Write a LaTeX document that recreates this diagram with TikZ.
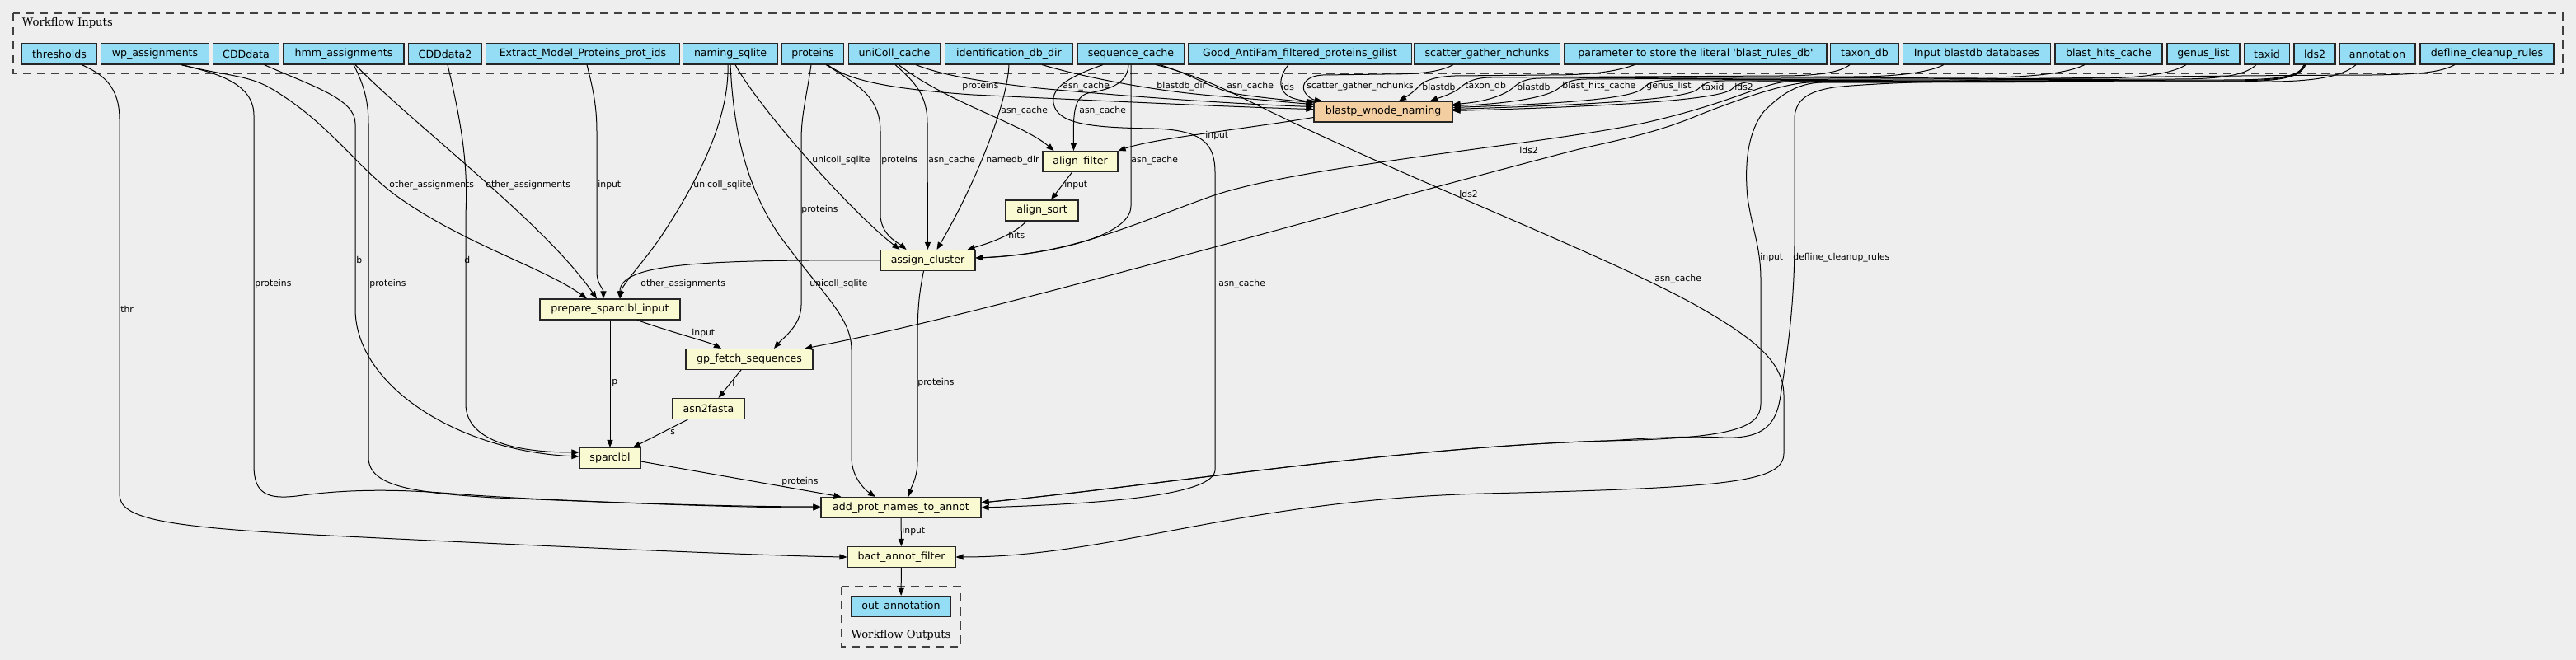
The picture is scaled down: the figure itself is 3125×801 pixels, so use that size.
\documentclass[tikz,border=0pt]{standalone}
\usepackage{fontspec}
\setmainfont{DejaVu Sans}
\newfontfamily\clusterfont{DejaVu Serif}
\usetikzlibrary{arrows.meta}
\usetikzlibrary{calc}
\definecolor{bgc}{RGB}{238,238,238}
\definecolor{inblue}{RGB}{148,221,244}
\definecolor{stepyel}{RGB}{250,250,210}
\definecolor{subwf}{RGB}{243,206,161}
\newcommand{\boxfont}{\fontsize{6.3}{7.5}\selectfont}
\newcommand{\edgefont}{\fontsize{5.4}{6.5}\selectfont}
\newcommand{\clfont}{\clusterfont\fontsize{6.6}{8}\selectfont}

\begin{document}
\begin{tikzpicture}[x=0.5pt, y=-0.5pt,
    inp/.style={draw=black!85, line width=0.55pt, fill=inblue, minimum height=12.5pt, inner sep=0pt, font=\boxfont},
    stepbox/.style={inp, fill=stepyel},
    wfbox/.style={inp, fill=subwf},
    edge/.style={line width=0.5pt, -{Triangle[length=4.5pt, width=3.5pt]}},
    lbl/.style={font=\edgefont, inner sep=0pt, anchor=west},
    cluster/.style={draw=black!75, line width=0.6pt, dash pattern=on 5pt off 3.5pt}]
    \fill[bgc] (0,0) rectangle (3125,801);
    \draw[cluster] (16,16) rectangle (3109,89);
    \node[font=\clfont, anchor=west, inner sep=0pt] (inlabel) at (26.5,28) {Workflow Inputs};
    \draw[cluster] (1021,712) rectangle (1165,785);
    \node[font=\clfont, inner sep=0pt] (outlabel) at (1093,771) {Workflow Outputs};

    \foreach \n/\x/\w/\txt in {thr/72/91/thresholds, wp/188/131/wp\_assignments, cdd/298.5/80/CDDdata,
        hmm/417/146/hmm\_assignments, cdd2/540/89/CDDdata2, extract/707/235/Extract\_Model\_Proteins\_prot\_ids,
        naming/886/115/naming\_sqlite, prot/986/75/proteins, unicoll/1085/111/uniColl\_cache,
        ident/1224/155/identification\_db\_dir, seqc/1372/129/sequence\_cache,
        antifam/1577/271/Good\_AntiFam\_filtered\_proteins\_gilist, sgn/1804/177/scatter\_gather\_nchunks,
        param/2057/318/parameter to store the literal \textquotesingle blast\_rules\_db\textquotesingle,
        taxdb/2262/83/taxon\_db, blastdbs/2398/179/Input blastdb databases, bhc/2558/130/blast\_hits\_cache,
        genus/2673/88/genus\_list, taxid/2750/55/taxid, lds/2808/50/lds2, annot/2884/92/annotation,
        defline/3017/162/defline\_cleanup\_rules}
        \node[inp, minimum width=\w*0.5pt] (\n) at (\x,65.5) {\txt};

    \node[wfbox, minimum width=84pt] (blastp) at (1678,135.5) {blastp\_wnode\_naming};
    \node[stepbox, minimum width=45.5pt] (alignf) at (1310.5,196) {align\_filter};
    \node[stepbox, minimum width=44pt] (aligns) at (1264,255.5) {align\_sort};
    \node[stepbox, minimum width=57.5pt] (assign) at (1125.5,316) {assign\_cluster};
    \node[stepbox, minimum width=85pt] (prep) at (740,375.5) {prepare\_sparclbl\_input};
    \node[stepbox, minimum width=77pt] (gpfetch) at (909,436) {gp\_fetch\_sequences};
    \node[stepbox, minimum width=43.5pt] (asn2f) at (859.5,496) {asn2fasta};
    \node[stepbox, minimum width=37pt] (sparc) at (740,556) {sparclbl};
    \node[stepbox, minimum width=97pt] (addprot) at (1093,616) {add\_prot\_names\_to\_annot};
    \node[stepbox, minimum width=65.5pt] (bactf) at (1093.5,676) {bact\_annot\_filter};
    \node[inp, minimum width=60pt] (outann) at (1093,736) {out\_annotation};

    \draw[edge] ($(thr.south)+(27,0)$) .. controls (125,90) and (145,105) .. (145,145) -- (145,600) .. controls (145,630) and (200,640) .. (400,650) .. controls (700,665) and (950,675) .. (bactf.west);
    \draw[edge] ($(wp.south)+(31,0)$) .. controls (260,88) and (308,100) .. (308,140) -- (308,565) .. controls (308,600) and (325,606) .. (360,602) .. controls (410,595) and (470,592) .. (560,600) .. controls (700,610) and (900,615) .. ($(addprot.west)+(0,-1)$);
    \draw[edge] ($(wp.south)+(33,0)$) .. controls (270,92) and (300,90) .. (330,108) .. controls (400,150) and (430,200) .. (480,237) .. controls (560,295) and (660,325) .. ($(prep.north)+(-28,0)$);
    \draw[edge] ($(cdd.south)+(22,0)$) .. controls (380,105) and (431,120) .. (431,150) -- (431,375) .. controls (431,470) and (560,548) .. ($(sparc.west)+(0,-2)$);
    \draw[edge] ($(hmm.south)+(12,0)$) .. controls (440,100) and (447,120) .. (447,150) -- (447,555) .. controls (447,590) and (500,598) .. (600,604) .. controls (800,612) and (900,616) .. (addprot.west);
    \draw[edge] ($(hmm.south)+(14,0)$) .. controls (500,150) and (660,270) .. ($(prep.north)+(-16,0)$);
    \draw[edge] ($(cdd2.south)+(3,0)$) .. controls (560,150) and (568,200) .. (565,260) -- (565,490) .. controls (565,540) and (640,549) .. ($(sparc.west)+(0,-7)$);
    \draw[edge] ($(extract.south)+(5,0)$) .. controls (720,110) and (724,130) .. (724,160) -- (724,330) .. controls (724,345) and (732,350) .. ($(prep.north)+(-8,0)$);
    \draw[edge] ($(naming.south)+(-3,0)$) .. controls (885,150) and (840,230) .. (800,290) .. controls (775,325) and (755,345) .. ($(prep.north)+(12,0)$);
    \draw[edge] (naming.south) .. controls (890,160) and (905,225) .. (945,285) .. controls (1000,360) and (1033,385) .. (1033,425) -- (1033,555) .. controls (1033,580) and (1050,595) .. ($(addprot.north)+(-31,0)$);
    \draw[edge] ($(naming.south)+(6,0)$) .. controls (920,130) and (1030,255) .. ($(assign.north)+(-34,0)$);
    \draw[edge] ($(prot.south)+(18,0)$) .. controls (1030,98) and (1080,108) .. (1180,115) .. controls (1350,123) and (1500,130) .. (blastp.178);
    \draw[edge] ($(prot.south)+(16,0)$) .. controls (1045,105) and (1068,120) .. (1068,160) -- (1068,260) .. controls (1068,285) and (1090,295) .. ($(assign.north)+(-26,0)$);
    \draw[edge] ($(prot.south)+(-2,0)$) .. controls (978,120) and (972,140) .. (972,170) -- (972,370) .. controls (972,395) and (950,410) .. ($(gpfetch.north)+(30,0)$);
    \draw[edge] ($(unicoll.south)+(26,0)$) .. controls (1140,90) and (1180,98) .. (1260,107) .. controls (1400,120) and (1520,127) .. (blastp.176);
    \draw[edge] ($(unicoll.south)+(5,0)$) .. controls (1150,125) and (1240,150) .. ($(alignf.north)+(-32,0)$);
    \draw[edge] ($(unicoll.south)+(1,0)$) .. controls (1110,100) and (1125,115) .. (1125,150) -- (assign.north);
    \draw[edge] ($(ident.south)+(40,0)$) .. controls (1320,95) and (1400,110) .. (1470,116) .. controls (1520,120) and (1560,124) .. (blastp.174);
    \draw[edge] (ident.south) .. controls (1222,125) and (1185,220) .. ($(assign.north)+(11,0)$);
    \draw[edge] ($(seqc.south)+(35,0)$) .. controls (1450,92) and (1470,108) .. (1500,114) .. controls (1540,120) and (1570,122) .. (blastp.173);
    \draw[edge] ($(seqc.south)+(-3,0)$) .. controls (1368,100) and (1350,108) .. (1320,113) .. controls (1302,118) and (1302,140) .. ($(alignf.north)+(-8,0)$);
    \draw[edge] (seqc.south) -- (1372,250) .. controls (1372,290) and (1260,310) .. ($(assign.east)+(0,-3)$);
    \draw[edge] ($(seqc.south)+(-34,0)$) .. controls (1300,92) and (1275,105) .. (1278,125) .. controls (1282,150) and (1320,155) .. (1400,156) .. controls (1460,158) and (1474,175) .. (1474,210) -- (1474,570) .. controls (1474,600) and (1350,611) .. (addprot.east);
    \draw[edge] ($(seqc.south)+(30,0)$) .. controls (1440,88) and (1470,100) .. (1520,125) .. controls (1700,215) and (1950,310) .. (2060,372) .. controls (2130,412) and (2164,440) .. (2164,480) -- (2164,550) .. controls (2164,585) and (2100,592) .. (1800,599) .. controls (1500,607) and (1350,676) .. (bactf.east);
    \draw[edge] ($(antifam.south)+(-14,0)$) .. controls (1550,95) and (1550,112) .. (1568,119) .. controls (1580,123) and (1592,123) .. (blastp.171);
    \draw[edge] ($(sgn.south)+(-41,0)$) .. controls (1745,88) and (1720,90) .. (1680,90) -- (1605,91) .. controls (1585,92) and (1579,102) .. (1582,110) .. controls (1585,117) and (1592,121) .. (blastp.170);
    \draw[edge] ($(param.south)+(-74,0)$) .. controls (1960,87) and (1930,91) .. (1880,91) -- (1765,92) .. controls (1740,93) and (1728,98) .. (1722,104) .. controls (1715,112) and (1705,118) .. ($(blastp.north)+(19,0)$);
    \draw[edge] ($(taxdb.south)+(-18,0)$) .. controls (2232,88) and (2205,92) .. (2160,92) -- (1810,94) .. controls (1790,94) and (1780,99) .. (1773,105) .. controls (1765,113) and (1745,119) .. ($(blastp.north)+(57,0)$);
    \draw[edge] ($(blastdbs.south)+(-40,0)$) .. controls (2340,88) and (2300,93) .. (2250,93) -- (1870,95) .. controls (1850,95) and (1843,100) .. (1836,106) .. controls (1825,116) and (1800,124) .. ($(blastp.east)+(0,-9)$);
    \draw[edge] ($(bhc.south)+(-29,0)$) .. controls (2510,88) and (2470,94) .. (2400,94) -- (1925,96) .. controls (1905,96) and (1898,101) .. (1891,107) .. controls (1878,118) and (1830,126) .. ($(blastp.east)+(0,-7)$);
    \draw[edge] ($(genus.south)+(-21,0)$) .. controls (2635,89) and (2600,95) .. (2540,95) -- (2027,97) .. controls (2005,97) and (1998,102) .. (1992,108) .. controls (1975,122) and (1860,127) .. ($(blastp.east)+(0,-5)$);
    \draw[edge] ($(taxid.south)+(-13,0)$) .. controls (2725,90) and (2700,96) .. (2640,96) -- (2093,98) .. controls (2072,98) and (2066,102) .. (2060,108) .. controls (2045,122) and (1900,128) .. ($(blastp.east)+(0,-3)$);
    \draw[edge] ($(lds.south)+(-13,0)$) .. controls (2790,92) and (2770,97) .. (2700,97) -- (2133,99) .. controls (2112,99) and (2106,103) .. (2101,108) .. controls (2085,123) and (1920,130) .. ($(blastp.east)+(0,-1)$);
    \draw[edge] ($(lds.south)+(-12,0)$) .. controls (2790,93) and (2770,98) .. (2700,98) -- (2170,99) .. controls (2140,100) and (2100,125) .. (2000,148) .. controls (1880,175) and (1580,200) .. (1470,238) .. controls (1380,270) and (1300,309) .. ($(assign.east)+(0,-3)$);
    \draw[edge] ($(lds.south)+(-11,0)$) .. controls (2790,94) and (2770,99) .. (2700,99) -- (2195,100) .. controls (2165,101) and (2110,120) .. (2060,140) .. controls (2000,165) and (1950,172) .. (1904,184) .. controls (1500,290) and (1200,380) .. (gpfetch.11);
    \draw[edge] ($(annot.south)+(-26,0)$) .. controls (2845,90) and (2820,98) .. (2760,99) -- (2210,100) .. controls (2180,101) and (2160,115) .. (2140,135) .. controls (2120,160) and (2116,200) .. (2120,240) .. controls (2126,280) and (2136,300) .. (2136,340) -- (2136,490) .. controls (2136,520) and (2100,532) .. (1950,535) .. controls (1700,542) and (1400,590) .. ($(addprot.east)+(0,-6)$);
    \draw[edge] ($(defline.south)+(-39,0)$) .. controls (2960,88) and (2935,90) .. (2880,91) .. controls (2600,92) and (2300,97) .. (2225,106) .. controls (2192,111) and (2177,122) .. (2177,145) -- (2177,290) .. controls (2177,380) and (2166,440) .. (2160,480) .. controls (2155,515) and (2140,533) .. (2090,531) .. controls (2050,529) and (2010,531) .. (1950,535) .. controls (1700,542) and (1400,590) .. ($(addprot.east)+(0,-6)$);
    \draw[edge] ($(blastp.west)+(0,7)$) .. controls (1500,158) and (1400,168) .. (alignf.north east);
    \draw[edge] ($(alignf.south)+(-10,0)$) -- ($(aligns.north)+(11,0)$);
    \draw[edge] ($(aligns.south)+(-19,0)$) .. controls (1230,285) and (1200,295) .. ($(assign.north)+(48,0)$);
    \draw[edge] (assign.west) .. controls (850,315) and (752,320) .. ($(prep.north)+(12,0)$);
    \draw[edge] ($(assign.south)+(-5,0)$) .. controls (1114,360) and (1113,380) .. (1113,420) -- (1113,560) .. controls (1113,580) and (1105,592) .. ($(addprot.north)+(9,0)$);
    \draw[edge] ($(prep.south)+(33,0)$) .. controls (820,405) and (860,415) .. ($(gpfetch.north)+(-34,0)$);
    \draw[edge] (prep) -- (sparc);
    \draw[edge] ($(gpfetch.south)+(-10,0)$) -- ($(asn2f.north)+(12,0)$);
    \draw[edge] ($(asn2f.south)+(-25,0)$) -- ($(sparc.north)+(28,0)$);
    \draw[edge] ($(sparc.east)+(0,4)$) -- ($(addprot.north west)+(25,0)$);
    \draw[edge] (addprot) -- (bactf);
    \draw[edge] (bactf) -- (outann);

    \foreach \n/\x/\y/\txt in {lprotbl/1167/105/proteins, lunibl/1289/105/asn\_cache, lidentbl/1403/105/blastdb\_dir,
        lseqbl/1488/105/asn\_cache, lidsbl/1554/105/ids, lsgnbl/1585/105/scatter\_gather\_nchunks,
        lparbl/1725/105/blastdb, ltaxdbbl/1777/105/taxon\_db, ldbsbl/1840/105/blastdb,
        lbhcbl/1895/105/blast\_hits\_cache, lgenbl/1997/105/genus\_list, ltaxidbl/2064/105/taxid,
        ldsbl/2104/105/lds2, luniaf/1214/135/asn\_cache, lseqaf/1309/135/asn\_cache, lblaf/1462/165/input,
        lafas/1291/225/input, lhits/1223/285/hits, lnamac/985/195/unicoll\_sqlite, lprotac/1069/195/proteins,
        lunIac/1126/195/asn\_cache, lidentac/1196/195/namedb\_dir, lseqac/1372/195/asn\_cache,
        ldsac/1843/182/lds2, ldsgp/1770/235/lds2, lwppr/472/225/other\_assignments,
        lhmmpr/589/225/other\_assignments, lexpr/725/225/input, lnampr/841/225/unicoll\_sqlite,
        lprotgp/972/255/proteins, lacpr/777/345/other\_assignments, lnamap/982/345/unicoll\_sqlite,
        lseqap/1478/345/asn\_cache, lprgp/839/405/input, lprsp/742/465/p, lgpaf/888/465/i,
        lacap/1113/465/proteins, lafsp/813/525/s, lspap/948/585/proteins, lapbf/1094/645/input,
        lthr/146/375/thr, lwpap/309/345/proteins, lhmmap/448/345/proteins, lcddsp/432/315/b,
        lcdd2sp/563/315/d, lseqbf/2007/339/asn\_cache, lannap/2135/313/input,
        ldefap/2175/313/defline\_cleanup\_rules}
        \node[lbl] (\n) at (\x,\y) {\txt};
\end{tikzpicture}
\end{document}
